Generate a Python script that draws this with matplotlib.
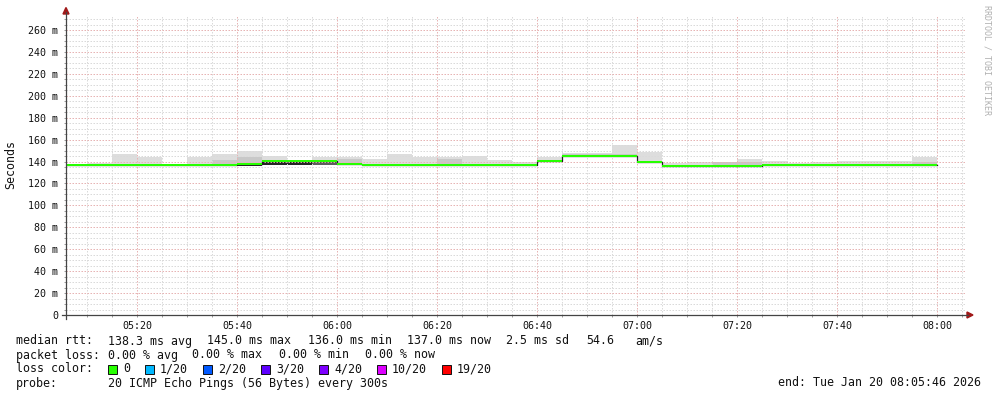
import matplotlib
matplotlib.use("Agg")
import matplotlib.pyplot as plt
from matplotlib.patches import Rectangle, Polygon
from matplotlib.lines import Line2D
import numpy as np

W, H = 997, 397
MONO = "DejaVu Sans Mono"

# ---------------- data ----------------
step_start = "05:05"          # first 5-minute step (clipped by the axis start)
step_minutes = 5
median_ms = [137.0, 137.0, 137.0, 137.0, 137.0, 137.0, 137.0, 138.1, 140.2, 140.2,
             140.2, 138.1, 137.0, 137.0, 137.0, 137.0, 137.0, 137.0, 137.0, 140.6,
             145.0, 145.0, 145.0, 139.3, 136.0, 136.0, 136.0, 136.3, 137.0, 137.0,
             137.0, 137.0, 137.0, 137.0, 137.0]
smoke_max_ms = [137.0, 138.8, 147.0, 144.6, 137.0, 144.6, 147.0, 149.2, 145.5, 141.3,
                143.8, 144.2, 142.5, 147.0, 144.6, 144.6, 145.5, 141.6, 140.0, 144.2,
                148.0, 148.0, 155.2, 148.4, 138.6, 139.5, 140.0, 142.0, 140.6, 138.8,
                140.0, 140.6, 140.6, 140.6, 144.6]
core_max_ms = [137.0, 137.0, 137.0, 137.0, 137.0, 137.0, 141.5, 144.0, 140.2, 140.2,
               140.2, 141.9, 137.0, 137.0, 137.0, 142.5, 137.0, 137.0, 137.0, 140.6,
               146.5, 146.5, 146.5, 139.3, 136.0, 136.0, 139.5, 140.0, 137.0, 137.0,
               137.0, 137.0, 137.0, 137.0, 140.0]
smoke_min_ms = [137.0, 137.0, 137.0, 137.0, 137.0, 137.0, 137.0, 136.3, 137.0, 137.0,
                137.0, 138.1, 137.0, 137.0, 137.0, 137.0, 137.0, 137.0, 137.0, 140.6,
                145.0, 145.0, 145.0, 139.3, 136.0, 136.0, 136.0, 136.3, 137.0, 137.0,
                137.0, 137.0, 137.0, 137.0, 137.0]
core_min_ms = [137.0, 137.0, 137.0, 137.0, 137.0, 137.0, 137.0, 136.3, 137.0, 137.0,
               140.2, 138.1, 137.0, 137.0, 137.0, 137.0, 137.0, 137.0, 137.0, 140.6,
               145.0, 145.0, 145.0, 139.3, 136.0, 136.0, 136.0, 136.3, 137.0, 137.0,
               137.0, 137.0, 137.0, 137.0, 137.0]

x_start = "05:05:46"
x_end = "08:05:46"
y_max_ms = 273.7
x_tick_labels = ["05:20", "05:40", "06:00", "06:20", "06:40", "07:00", "07:20", "07:40", "08:00"]
y_tick_values = [0, 20, 40, 60, 80, 100, 120, 140, 160, 180, 200, 220, 240, 260]
y_tick_labels = ["0"] + [f"{v} m" for v in y_tick_values[1:]]

loss_labels = ["0", "1/20", "2/20", "3/20", "4/20", "10/20", "19/20"]
loss_colors = ["#26ff00", "#00b8ff", "#0059ff", "#5e00ff", "#7e00ff", "#dd00ff", "#ff0000"]

rtt_items = ["median rtt:", "138.3 ms avg", "145.0 ms max", "136.0 ms min",
             "137.0 ms now", "2.5 ms sd", "54.6", "am/s"]
loss_items = ["packet loss:", "0.00 % avg", "0.00 % max", "0.00 % min", "0.00 % now"]
probe_items = ["probe:", "20 ICMP Echo Pings (56 Bytes) every 300s"]
loss_color_title = "loss color:"
end_text = "end: Tue Jan 20 08:05:46 2026"
y_label = "Seconds"
watermark = "RRDTOOL / TOBI OETIKER"


def to_min(s):
    parts = [int(p) for p in s.split(":")]
    while len(parts) < 3:
        parts.append(0)
    return parts[0] * 60 + parts[1] + parts[2] / 60.0


# ---------------- figure ----------------
fig = plt.figure(figsize=(W / 100, H / 100), dpi=100)
fig.patch.set_facecolor("white")

AX_L, AX_R, AX_T, AX_B = 66, 966, 15, 315


def fx(x):
    return x / W


def fy(y):
    return 1 - y / H


ax = fig.add_axes([fx(AX_L), fy(AX_B), (AX_R - AX_L) / W, (AX_B - AX_T) / H])
ax.set_facecolor("white")

n = len(median_ms)
edges = np.array([to_min(step_start) + step_minutes * i for i in range(n + 1)])


def pad(a):
    a = np.asarray(a, float)
    return np.append(a, a[-1])


med = pad(median_ms)
smax = pad(smoke_max_ms)
cmax = pad(core_max_ms)
smin = pad(smoke_min_ms)
cmin = pad(core_min_ms)

ax.fill_between(edges, med, smax, step="post", color="#dddddd", lw=0, zorder=1)
ax.fill_between(edges, med, cmax, step="post", color="#c8c8c8", lw=0, zorder=1.1)
ax.fill_between(edges, smin, med, step="post", color="#5e5e5e", lw=0, zorder=1.2)
ax.fill_between(edges, cmin, med, step="post", color="#262626", lw=0, zorder=1.3)
ax.step(edges, med, where="post", color="#1e1e1e", lw=0.9, zorder=3)
hw = 1.1 * y_max_ms / (AX_B - AX_T)
ax.fill_between(edges, med - hw, med + hw, step="post", color="#26ff00", lw=0, zorder=4)

ax.set_xlim(to_min(x_start), to_min(x_end))
ax.set_ylim(0, y_max_ms)

major_x = [to_min(t) for t in x_tick_labels]
ax.set_xticks(major_x)
ax.set_xticklabels(x_tick_labels, fontfamily=MONO, fontsize=7.2)
minor_x = np.arange(to_min("05:10"), to_min(x_end), step_minutes)
ax.set_xticks(minor_x, minor=True)
ax.set_yticks(y_tick_values)
ax.set_yticklabels(y_tick_labels, fontfamily=MONO, fontsize=7.2)
ax.set_yticks(np.arange(0, y_max_ms, 5), minor=True)

ax.tick_params(which="both", direction="out", length=1.6, width=0.7, color="#9a9a9a",
               labelcolor="#111111")
ax.tick_params(axis="x", pad=2.6)
ax.tick_params(axis="y", pad=4.2)
ax.set_axisbelow(False)
ax.grid(which="minor", color="#dadada", linestyle=(0, (1.5, 1.5)), lw=0.72)
ax.grid(which="major", color="#e7b4b4", linestyle=(0, (1.5, 1.5)), lw=0.72)
for sp in ax.spines.values():
    sp.set_visible(False)

# axis lines with arrows (pixel positions)
axis_col = "#444444"
arrow_col = "#a01818"
fig.add_artist(Line2D([fx(62), fx(968)], [fy(AX_B), fy(AX_B)], color=axis_col, lw=0.9))
fig.add_artist(Line2D([fx(AX_L), fx(AX_L)], [fy(319), fy(12)], color=axis_col, lw=0.9))
fig.add_artist(Polygon([[fx(967), fy(AX_B - 3)], [fx(967), fy(AX_B + 3)], [fx(973), fy(AX_B)]],
                       closed=True, color=arrow_col, transform=fig.transFigure))
fig.add_artist(Polygon([[fx(AX_L - 3), fy(14)], [fx(AX_L + 3), fy(14)], [fx(AX_L), fy(7.5)]],
                       closed=True, color=arrow_col, transform=fig.transFigure))

# labels
fig.text(fx(11), fy(164), y_label, rotation=90, ha="center", va="center",
         fontfamily=MONO, fontsize=8.4, color="#111111")
fig.text(fx(987), fy(5), watermark, rotation=270, ha="center", va="top",
         fontfamily=MONO, fontsize=6.0, color="#b0b0b0")

fs = 8.37
tc = "#111111"


def put(x, y, s, ha="left"):
    fig.text(fx(x), fy(y), s, ha=ha, va="center", fontfamily=MONO, fontsize=fs, color=tc)


rtt_x = [16, 108, 207, 307.5, 407, 506.5, 586, 635]
for x, s in zip(rtt_x, rtt_items):
    put(x, 341, s)
loss_x = [16, 108, 192.3, 278.5, 364.8]
for x, s in zip(loss_x, loss_items):
    put(x, 355, s)
put(16, 369, loss_color_title)
for x, s in zip([16, 108], probe_items):
    put(x, 383, s)
put(981, 383, end_text, ha="right")

bx = 108
for lab, col in zip(loss_labels, loss_colors):
    fig.add_artist(Rectangle((fx(bx), fy(373.5)), 9 / W, 9 / H, facecolor=col,
                             edgecolor="#111111", lw=0.7, transform=fig.transFigure))
    tx = bx + 15
    put(tx, 369, lab)
    bx = tx + len(lab) * 7 + 15

fig.savefig("out.png", dpi=100, facecolor="white")
